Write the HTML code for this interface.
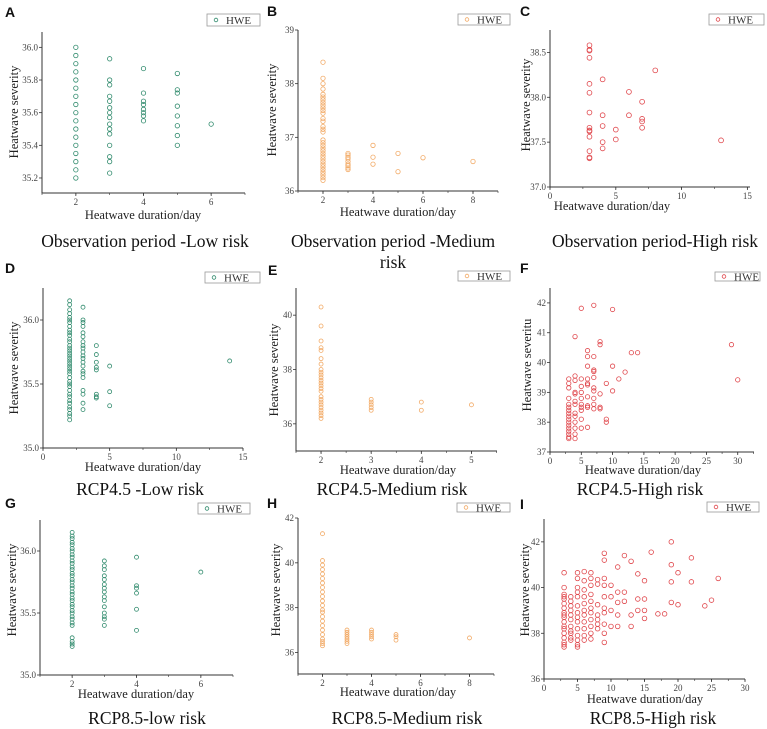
<!DOCTYPE html>
<html><head><meta charset="utf-8"><style>
body{margin:0;background:#fff}
svg{display:block}
text{font-family:"Liberation Serif",serif}
.tk{font-size:9px;fill:#444}
.at{font-size:12.5px;fill:#222}
.cap{font-size:17.5px;fill:#111}
.let{font-family:"Liberation Sans",sans-serif;font-weight:bold;font-size:14px;fill:#111}
.lg{font-size:11px;fill:#333}
</style></head><body>
<svg id="fig" width="767" height="729" viewBox="0 0 767 729" xmlns="http://www.w3.org/2000/svg"></svg>
<script>
// ---- data (duration groups and severities) ----
const aDur=[2,3,4,5,6];
const aSev=[[35.2,35.25,35.3,35.35,35.4,35.45,35.5,35.55,35.6,35.65,35.7,35.75,35.8,35.85,35.9,35.95,36.0],
[35.93,35.8,35.77,35.7,35.67,35.63,35.6,35.57,35.53,35.5,35.47,35.4,35.33,35.3,35.23],
[35.87,35.72,35.67,35.65,35.62,35.6,35.58,35.55],
[35.84,35.74,35.72,35.64,35.58,35.52,35.46,35.4],[35.53]];
const bDur=[2,3,4,5,6,8];
const bSev=[[38.4,38.1,38.0,37.9,37.8,37.75,37.7,37.65,37.6,37.55,37.5,37.45,37.35,37.3,37.2,37.15,37.1,36.95,36.9,36.85,36.8,36.75,36.7,36.65,36.6,36.55,36.5,36.45,36.4,36.35,36.3,36.25,36.2],
[36.7,36.67,36.63,36.6,36.55,36.5,36.47,36.43,36.4],[36.85,36.63,36.5],[36.7,36.36],[36.62],[36.55]];
const cDur=[3,4,5,6,7,8,13];
const cSev=[[38.58,38.53,38.52,38.44,38.15,38.05,37.83,37.66,37.63,37.62,37.56,37.4,37.33,37.32],
[38.2,37.8,37.68,37.5,37.43],[37.64,37.53],[38.06,37.8],[37.95,37.76,37.73,37.66],[38.3],[37.52]];
const dDur=[2,3,4,5,14];
const dSev=[[36.15,36.12,36.08,36.05,36.02,36.0,35.98,35.95,35.92,35.9,35.88,35.85,35.83,35.8,35.78,35.76,35.74,35.72,35.7,35.68,35.66,35.64,35.62,35.6,35.58,35.55,35.52,35.5,35.48,35.45,35.42,35.4,35.37,35.35,35.32,35.3,35.27,35.25,35.22],
[36.1,36.0,35.98,35.95,35.9,35.87,35.83,35.8,35.78,35.75,35.72,35.7,35.67,35.64,35.6,35.58,35.55,35.45,35.42,35.35,35.3],
[35.8,35.73,35.67,35.63,35.61,35.42,35.4,35.39],[35.64,35.44,35.33],[35.68]];
const eDur=[2,3,4,5];
const eSev=[[40.3,39.6,39.05,38.8,38.7,38.4,38.2,38.0,37.9,37.8,37.7,37.6,37.5,37.4,37.3,37.2,37.0,36.9,36.8,36.7,36.6,36.5,36.4,36.3,36.2],
[36.9,36.8,36.7,36.6,36.5],[36.8,36.5],[36.7]];
const fDur=[3,4,5,6,7,8,9,10,11,12,13,14,29,30];
const fSev=[[39.45,39.3,39.15,38.8,38.6,38.5,38.4,38.3,38.2,38.1,38.0,37.9,37.8,37.7,37.6,37.5,37.45],
[40.87,39.55,39.4,39.0,38.95,38.7,38.6,38.3,38.2,38.0,37.8,37.6,37.45],
[41.82,39.45,39.2,39.0,38.8,38.6,38.5,38.4,38.1,37.8],
[40.4,40.2,39.88,39.45,39.3,39.25,38.85,38.55,38.5,37.83],
[41.92,40.2,39.75,39.7,39.5,39.15,39.05,38.8,38.6,38.45],
[40.7,40.6,38.95,38.5,38.45],[39.3,38.1,38.0],[41.78,39.88,39.05],[39.45],[39.68],[40.33],[40.33],[40.6],[39.42]];
const gDur=[2,3,4,6];
const gSev=[[36.15,36.12,36.1,36.07,36.05,36.02,36.0,35.97,35.95,35.92,35.9,35.87,35.85,35.82,35.8,35.77,35.75,35.72,35.7,35.67,35.65,35.62,35.6,35.57,35.55,35.52,35.5,35.47,35.45,35.42,35.4,35.3,35.27,35.25,35.23],
[35.92,35.88,35.85,35.8,35.77,35.73,35.7,35.67,35.63,35.6,35.55,35.5,35.47,35.45,35.4],
[35.95,35.72,35.7,35.66,35.53,35.36],[35.83]];
const hDur=[2,3,4,5,8];
const hSev=[[41.3,40.1,39.9,39.7,39.5,39.3,39.1,38.9,38.7,38.5,38.3,38.1,37.9,37.8,37.6,37.4,37.2,37.0,36.8,36.6,36.5,36.4,36.3],
[37.0,36.9,36.8,36.7,36.6,36.5,36.4],[37.0,36.9,36.8,36.7,36.6],[36.8,36.7,36.55],[36.65]];
const iDur=[3,4,5,6,7,8,9,10,11,12,13,14,15,16,17,18,19,20,22,24,25,26];
const iSev=[[40.65,40.0,39.7,39.6,39.5,39.3,39.1,38.9,38.8,38.7,38.5,38.3,38.2,38.0,37.8,37.6,37.5,37.4],
[39.6,39.4,39.2,39.0,38.8,38.6,38.3,38.1,38.0,37.8,37.7],
[40.65,40.4,40.0,39.8,39.6,39.2,38.9,38.7,38.5,38.2,37.9,37.7,37.5,37.4],
[40.7,40.3,39.9,39.6,39.3,39.0,38.8,38.5,38.2,37.9,37.7],
[40.65,40.4,40.1,39.7,39.4,39.1,38.9,38.6,38.3,38.0,37.75],
[40.35,40.15,39.25,38.8,38.6,38.4,38.2],
[41.5,41.2,40.4,40.1,39.6,39.1,38.9,38.4,38.0,37.6],
[40.1,39.6,39.0,38.3],[40.9,39.8,39.35,38.8,38.3],[41.4,39.8,39.4],[41.15,38.8,38.3],
[40.6,39.5,39.0],[40.3,39.5,39.0,38.65],[41.55],[38.85],[38.85],[42.0,41.0,40.25,39.35],[40.65,39.25],[41.3,40.25],[39.2],[39.45],[40.4]];
// tick labels
const aXT=[2,4,6], aYT=["35.2","35.4","35.6","35.8","36.0"];
const bXT=[2,4,6,8], bYT=["36","37","38","39"];
const cXT=[0,5,10,15], cYT=["37.0","37.5","38.0","38.5"];
const dXT=[0,5,10,15], dYT=["35.0","35.5","36.0"];
const eXT=[2,3,4,5], eYT=["36","38","40"];
const fXT=[0,5,10,15,20,25,30], fYT=["37","38","39","40","41","42"];
const gXT=[2,4,6], gYT=["35.0","35.5","36.0"];
const hXT=[2,4,6,8], hYT=["36","38","40","42"];
const iXT=[0,5,10,15,20,25,30], iYT=["36","38","40","42"];

// ---- layout ----
const GREEN="#2f8a6c", ORANGE="#f2aa66", RED="#e0474c";
const panels=[
 {id:"a",L:"A",box:[42,32,245,193],xd:[1,7],yd:[35.108,36.094],xm:1,dur:aDur,sev:aSev,xt:aXT,yt:aYT,c:GREEN,r:2.2,lg:[207,14,53,12],lt:[5,17],yt_:[15,112],xtl:[143,219],cap:["Observation period -Low risk"],capc:[145,247]},
 {id:"b",L:"B",box:[298,30,498,191],xd:[1,9],yd:[36,39],xm:1,dur:bDur,sev:bSev,xt:bXT,yt:bYT,c:ORANGE,r:2.2,lg:[458,14,52,11],lt:[267,16],yt_:[273,110],xtl:[398,216],cap:["Observation period -Medium","risk"],capc:[393,247]},
 {id:"c",L:"C",box:[550,30,750,187],xd:[0,15.2],yd:[37,38.75],xm:2.5,dur:cDur,sev:cSev,xt:cXT,yt:cYT,c:RED,r:2.4,lg:[709,14,55,11],lt:[520,16],yt_:[527,105],xtl:[612,210],cap:["Observation period-High risk"],capc:[655,247]},
 {id:"d",L:"D",box:[43,288,243,448],xd:[0,15],yd:[35,36.25],xm:2.5,dur:dDur,sev:dSev,xt:dXT,yt:dYT,c:GREEN,r:2.0,lg:[205,272,55,11],lt:[5,273],yt_:[15,368],xtl:[143,471],cap:["RCP4.5 -Low risk"],capc:[140,495]},
 {id:"e",L:"E",box:[296,288,497,451],xd:[1.5,5.51],yd:[35,41],xm:0.5,dur:eDur,sev:eSev,xt:eXT,yt:eYT,c:ORANGE,r:2.0,lg:[458,271,52,10],lt:[268,275],yt_:[275,370],xtl:[398,474],cap:["RCP4.5-Medium risk"],capc:[392,495]},
 {id:"f",L:"F",box:[550,288,754,452],xd:[0,32.6],yd:[37,42.5],xm:2.5,dur:fDur,sev:fSev,xt:fXT,yt:fYT,c:RED,r:2.2,lg:[715,272,45,9],lt:[520,273],yt_:[528,365],xtl:[643,474],cap:["RCP4.5-High risk"],capc:[640,495]},
 {id:"g",L:"G",box:[40,520,233,675],xd:[1,7],yd:[35,36.25],xm:1,dur:gDur,sev:gSev,xt:gXT,yt:gYT,c:GREEN,r:2.0,lg:[198,503,52,11],lt:[5,508],yt_:[13,590],xtl:[136,698],cap:["RCP8.5-low risk"],capc:[147,724]},
 {id:"h",L:"H",box:[298,518,494,674],xd:[1,9],yd:[35.04,42],xm:1,dur:hDur,sev:hSev,xt:hXT,yt:hYT,c:ORANGE,r:2.0,lg:[457,503,53,9],lt:[267,508],yt_:[277,590],xtl:[398,696],cap:["RCP8.5-Medium risk"],capc:[407,724]},
 {id:"i",L:"I",box:[544,519,745,679],xd:[0,30],yd:[36,43],xm:2.5,dur:iDur,sev:iSev,xt:iXT,yt:iYT,c:RED,r:2.3,lg:[707,502,52,10],lt:[520,509],yt_:[526,590],xtl:[645,703],cap:["RCP8.5-High risk"],capc:[653,724]}
];
const NS="http://www.w3.org/2000/svg";
const svg=document.getElementById("fig");
function mk(tag,attrs,parent,txt){const e=document.createElementNS(NS,tag);for(const k in attrs)e.setAttribute(k,attrs[k]);if(txt!==undefined)e.textContent=txt;parent.appendChild(e);return e;}

panels.forEach(p=>{
 const g=mk("g",{},svg);
 
 
 const [x0,y0,x1,y1]=p.box;
 const sx=v=>x0+(v-p.xd[0])/(p.xd[1]-p.xd[0])*(x1-x0);
 const sy=v=>y1-(v-p.yd[0])/(p.yd[1]-p.yd[0])*(y1-y0);
 // axes
 const ax=mk("path",{d:`M${x0},${y0}V${y1}H${x1}`,fill:"none",stroke:"#333","stroke-width":1},g);
 
 
 // x ticks
 p.xt.forEach(v=>{
  const X=sx(v);
  mk("line",{x1:X,y1:y1,x2:X,y2:y1+3,stroke:"#333","stroke-width":0.8},g);
  const t=mk("text",{x:X,y:y1+12,class:"tk","text-anchor":"middle"},g,String(v));
  
  
 });
 // minor x ticks
 const step=p.xt.length>1?(p.xt[1]-p.xt[0])/2:1;
 for(let v=p.xt[0]-step;v<=p.xd[1];v+=step){
  if(v<p.xd[0])continue;
  const X=sx(v);
  mk("line",{x1:X,y1:y1,x2:X,y2:y1+2,stroke:"#333","stroke-width":0.6},g);
 }
 // y ticks
 p.yt.forEach(s=>{
  const Y=sy(parseFloat(s));
  mk("line",{x1:x0-3,y1:Y,x2:x0,y2:Y,stroke:"#333","stroke-width":0.8},g);
  const t=mk("text",{x:x0-4,y:Y+3,class:"tk","text-anchor":"end"},g,s);
  
  
 });
 // points
 p.dur.forEach((d,i)=>{
  p.sev[i].forEach(v=>{
   const c=mk("circle",{cx:sx(d),cy:sy(v),r:p.r,fill:"none",stroke:p.c,"stroke-width":0.8},g);
   
   
  });
 });
 // axis titles
 const xt=mk("text",{x:p.xtl[0],y:p.xtl[1],class:"at","text-anchor":"middle"},g,"Heatwave duration/day");
 
 
 const ytx=mk("text",{x:p.yt_[0],y:p.yt_[1],class:"at","text-anchor":"middle",transform:`rotate(-90 ${p.yt_[0]} ${p.yt_[1]})`,"dominant-baseline":"middle"},g,p.id==="f"?"Heatwave severitu":"Heatwave severity");
 
 
 // legend
 const [lx,ly,lw,lh]=p.lg;
 const lgg=mk("g",{},g);
 
 
 mk("rect",{x:lx,y:ly,width:lw,height:lh,fill:"#fff",stroke:"#999","stroke-width":0.8},lgg);
 mk("circle",{cx:lx+9,cy:ly+lh/2,r:1.8,fill:"none",stroke:p.c,"stroke-width":0.8},lgg);
 mk("text",{x:lx+19,y:ly+lh/2+4,class:"lg"},lgg,"HWE");
 // panel letter
 const lt=mk("text",{x:p.lt[0],y:p.lt[1],class:"let"},g,p.L);
 
 
 // caption
 p.cap.forEach((s,k)=>{
  const c=mk("text",{x:p.capc[0],y:p.capc[1]+k*21,class:"cap","text-anchor":"middle"},g,s);
  
  
 });
});
</script>
</body></html>
